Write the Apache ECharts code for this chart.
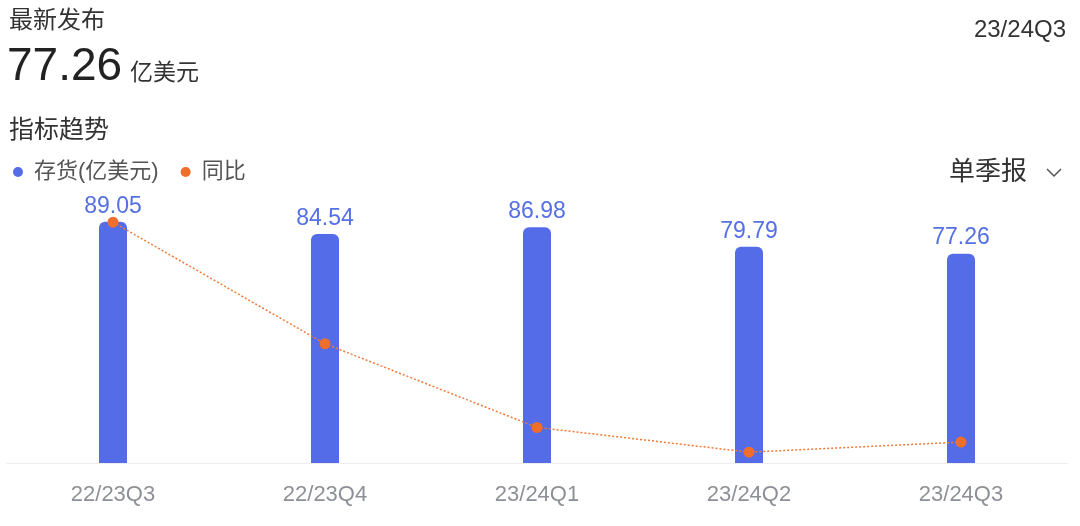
<!DOCTYPE html>
<html>
<head>
<meta charset="utf-8">
<script src="https://cdn.jsdelivr.net/npm/echarts@6/dist/echarts.min.js"></script>
<style>
html,body{margin:0;padding:0;background:#fff;}
#c{width:1080px;height:526px;}
</style>
</head>
<body>
<div id="c"></div>
<script>
// ---- data ----
var categories = ['22/23Q3', '22/23Q4', '23/24Q1', '23/24Q2', '23/24Q3'];
var inventory = [89.05, 84.54, 86.98, 79.79, 77.26];   // 存货(亿美元)
var yoy = [16.1, 0.4, -10.4, -13.6, -12.3];             // 同比 (%)
var latestValue = '77.26';
var latestPeriod = '23/24Q3';

var FONT = '"Liberation Sans", "Noto Sans CJK SC", sans-serif';
var BLUE = '#556ce8';
var ORANGE = '#ee6f2d';

var chart = echarts.init(document.getElementById('c'));
chart.setOption({
  backgroundColor: '#fff',
  animation: false,
  textStyle: { fontFamily: FONT },
  grid: { left: 7, right: 13, top: 192, bottom: 63, containLabel: false },
  legend: {
    left: 8, top: 156,
    itemWidth: 10, itemHeight: 10, itemGap: 22,
    icon: 'circle',
    textStyle: { fontSize: 22, color: '#555', fontFamily: FONT, padding: [0, 0, 0, 6] },
    data: [
      { name: '存货(亿美元)', itemStyle: { color: BLUE } },
      { name: '同比', itemStyle: { color: ORANGE } }
    ]
  },
  xAxis: {
    type: 'category',
    data: categories,
    axisLine: { show: true, lineStyle: { color: '#ececec', width: 1 } },
    axisTick: { show: false },
    axisLabel: { color: '#8e9097', fontSize: 22, margin: 21, fontFamily: FONT }
  },
  yAxis: [
    { type: 'value', min: 0, max: 100, show: false, splitLine: { show: false } },
    { type: 'value', min: -15, max: 20, show: false, splitLine: { show: false } }
  ],
  series: [
    {
      name: '存货(亿美元)',
      type: 'bar',
      data: inventory,
      barWidth: 28,
      itemStyle: { color: BLUE, borderRadius: [6, 6, 0, 0] },
      label: {
        show: true, position: 'top', distance: 4,
        color: '#5470e4', fontSize: 23, fontFamily: FONT,
        formatter: function (p) { return p.value.toFixed(2); }
      },
      z: 2
    },
    {
      name: '同比',
      type: 'line',
      yAxisIndex: 1,
      data: yoy,
      symbol: 'circle',
      symbolSize: 11,
      itemStyle: { color: ORANGE },
      lineStyle: { color: '#ef7a3a', width: 1.5, type: [2, 2] },
      z: 3
    }
  ],
  graphic: [
    { type: 'text', left: 9, top: 9, style: { text: '最新发布', font: '24px ' + FONT, fill: '#333' } },
    { type: 'text', left: 7, top: 44, style: { text: latestValue, font: '46px ' + FONT, fill: '#222' } },
    { type: 'text', left: 130, top: 62, style: { text: '亿美元', font: '23px ' + FONT, fill: '#333' } },
    { type: 'text', left: 9, top: 119, style: { text: '指标趋势', font: '25px ' + FONT, fill: '#333' } },
    { type: 'text', right: 14, top: 18, style: { text: latestPeriod, font: '24px ' + FONT, fill: '#333' } },
    { type: 'text', right: 53, top: 160, style: { text: '单季报', font: '26px ' + FONT, fill: '#333' } },
    { type: 'polyline', shape: { points: [[1047, 169], [1054, 176], [1061, 169]] }, style: { stroke: '#555', lineWidth: 1.5, fill: null } }
  ]
});
</script>
</body>
</html>
